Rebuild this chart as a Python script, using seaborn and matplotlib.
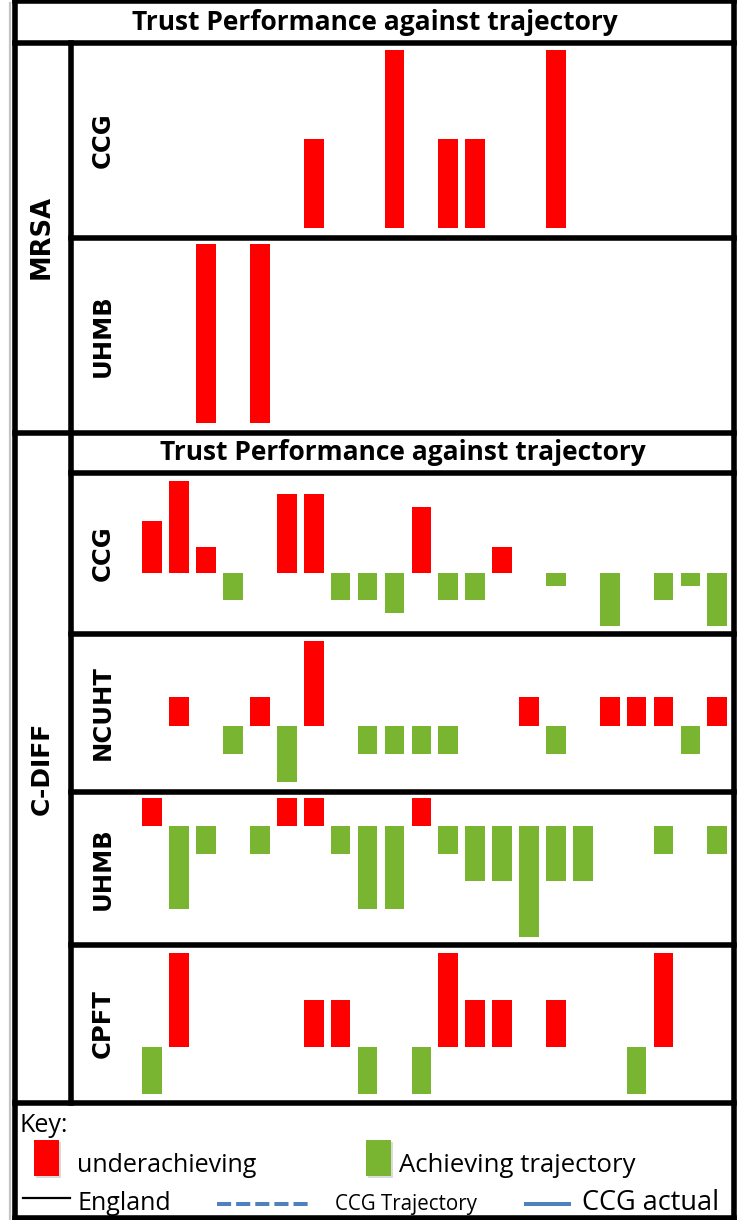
import numpy as np
import pandas as pd
import seaborn as sns
from matplotlib import pyplot as plt
from matplotlib.patches import Rectangle

# 22 monthly slots (+ = over trajectory)
slots = list(range(22))
mrsa_ccg = [0, 0, 0, 0, 0, 0, 1, 0, 0, 2, 0, 1, 1, 0, 0, 2, 0, 0, 0, 0, 0, 0]
mrsa_uhmb = [0, 0, 1, 0, 1, 0, 0, 0, 0, 0, 0, 0, 0, 0, 0, 0, 0, 0, 0, 0, 0, 0]
cdiff_ccg = [4, 7, 2, -2, 0, 6, 6, -2, -2, -3, 5, -2, -2, 2, 0, -1, 0, -4, 0, -2, -1, -4]
cdiff_ncuht = [0, 1, 0, -1, 1, -2, 3, 0, -1, -1, -1, -1, 0, 0, 1, -1, 0, 1, 1, 1, -1, 1]
cdiff_uhmb = [1, -3, -1, 0, -1, 1, 1, -1, -3, -3, 1, -1, -2, -2, -4, -2, -2, 0, 0, -1, 0, -1]
cdiff_cpft = [-1, 2, 0, 0, 0, 0, 1, 1, -1, 0, -1, 2, 1, 1, 0, 1, 0, 0, -1, 2, 0, 0]

groups = ["MRSA", "C-DIFF"]
row_names = ["CCG", "UHMB", "CCG", "NCUHT", "UHMB", "CPFT"]
row_values = [mrsa_ccg, mrsa_uhmb, cdiff_ccg, cdiff_ncuht, cdiff_uhmb, cdiff_cpft]
title = "Trust Performance against trajectory"
status_labels = ["underachieving", "Achieving trajectory"]
palette = {"underachieving": "#FF0000", "Achieving trajectory": "#79B530"}

W, H = 737, 1220
LW = 4.0  # table rule width in pt (~5.5 px)

# panel rows in pixels (top, bottom) and y-limits so baselines land where they do
panel_rows = [(43, 237.5), (237.5, 433), (473, 634), (634, 791.5), (791.5, 945), (945, 1103)]
panel_ylims = [(-0.107, 2.079), (-0.056, 1.036), (-4.6, 7.6), (-2.325, 3.24), (-4.29, 1.23), (-1.195, 2.16)]
x_left, x_right = 72, 734
xlim = (-2.985, 21.62)

plt.rcParams["font.family"] = ["DejaVu Sans"]
fig = plt.figure(figsize=(W / 100, H / 100), dpi=100)

bg = fig.add_axes([0, 0, 1, 1])
bg.set_xlim(0, W)
bg.set_ylim(H, 0)
bg.axis("off")


def hline(y, x0, x1, **kw):
    bg.plot([x0, x1], [y, y], color="black", lw=LW, solid_capstyle="projecting", **kw)


def vline(x, y0, y1, **kw):
    bg.plot([x, x], [y0, y1], color="black", lw=LW, solid_capstyle="projecting", **kw)


# faint grey edge on the far left
bg.plot([10, 10], [3, H], color="#C4C4C4", lw=1.6)

# table frame
hline(1.0, 15.5, 734.5)
hline(1217.5, 15.5, 734.5)
vline(15.5, 1.0, 1217.5)
vline(734.5, 1.0, 1217.5)
hline(43, 15.5, 734.5)
vline(71.5, 43, 1103)
hline(237.5, 71.5, 734.5)
hline(433, 15.5, 734.5)
hline(473, 71.5, 734.5)
for y in [634, 791.5, 945]:
    hline(y, 71.5, 734.5)
hline(1103, 15.5, 734.5)

title_font = ["Open Sans", "DejaVu Sans"]
bg.text(375, 30.5, title, ha="center", va="baseline", fontsize=19, fontweight="bold", family=title_font)
bg.text(403, 460, title, ha="center", va="baseline", fontsize=19, fontweight="bold", family=title_font)

bg.text(42, 237, groups[0], rotation=90, ha="center", va="center", fontsize=18.5, fontweight="bold")
bg.text(42, 768, groups[1], rotation=90, ha="center", va="center", fontsize=18, fontweight="bold")

for (top, bottom), vals, name, ylim in zip(panel_rows, row_values, row_names, panel_ylims):
    bg.text(103, (top + bottom) / 2, name, rotation=90, ha="center", va="center",
            fontsize=17.5, fontweight="bold")
    ax = fig.add_axes([x_left / W, 1 - bottom / H, (x_right - x_left) / W, (bottom - top) / H])
    ax.patch.set_alpha(0)
    df = pd.DataFrame({"slot": slots, "value": vals})
    df["status"] = np.where(df["value"] > 0, status_labels[0], status_labels[1])
    df = df[df["value"] != 0]
    sns.barplot(data=df, x="slot", y="value", hue="status", order=slots, hue_order=status_labels,
                palette=palette, saturation=1, dodge=False, width=0.73, errorbar=None,
                legend=False, linewidth=0, ax=ax)
    ax.set_xlim(*xlim)
    ax.set_ylim(*ylim)
    ax.axis("off")

# key
key_font = ["Open Sans", "DejaVu Sans"]
bg.text(20, 1132, "Key:", ha="left", va="baseline", fontsize=18, family=key_font)
for x0, label in [(34, status_labels[0]), (366, status_labels[1])]:
    bg.add_patch(Rectangle((x0 + 2, 1142), 25, 36, color="#9A9A9A", alpha=0.35, lw=0))
    bg.add_patch(Rectangle((x0, 1140), 25, 36, color=palette[label], lw=0))
bg.text(77.5, 1172, status_labels[0], ha="left", va="baseline", fontsize=18, family=key_font)
bg.text(399, 1172, status_labels[1], ha="left", va="baseline", fontsize=18.5, family=key_font)

bg.plot([23, 70], [1198, 1198], color="black", lw=1.6)
bg.text(77.5, 1210, "England", ha="left", va="baseline", fontsize=18, family=key_font)
bg.plot([217, 312], [1204, 1204], color="#4F81BD", lw=2.9, linestyle=(0, (3.5, 1.25)))
bg.text(335, 1210, "CCG Trajectory", ha="left", va="baseline", fontsize=14.8, family=key_font)
bg.plot([526, 569], [1204, 1204], color="#4F81BD", lw=2.9)
bg.text(582, 1210, "CCG actual", ha="left", va="baseline", fontsize=19.5, family=key_font)

plt.savefig("out.png", dpi=100)
